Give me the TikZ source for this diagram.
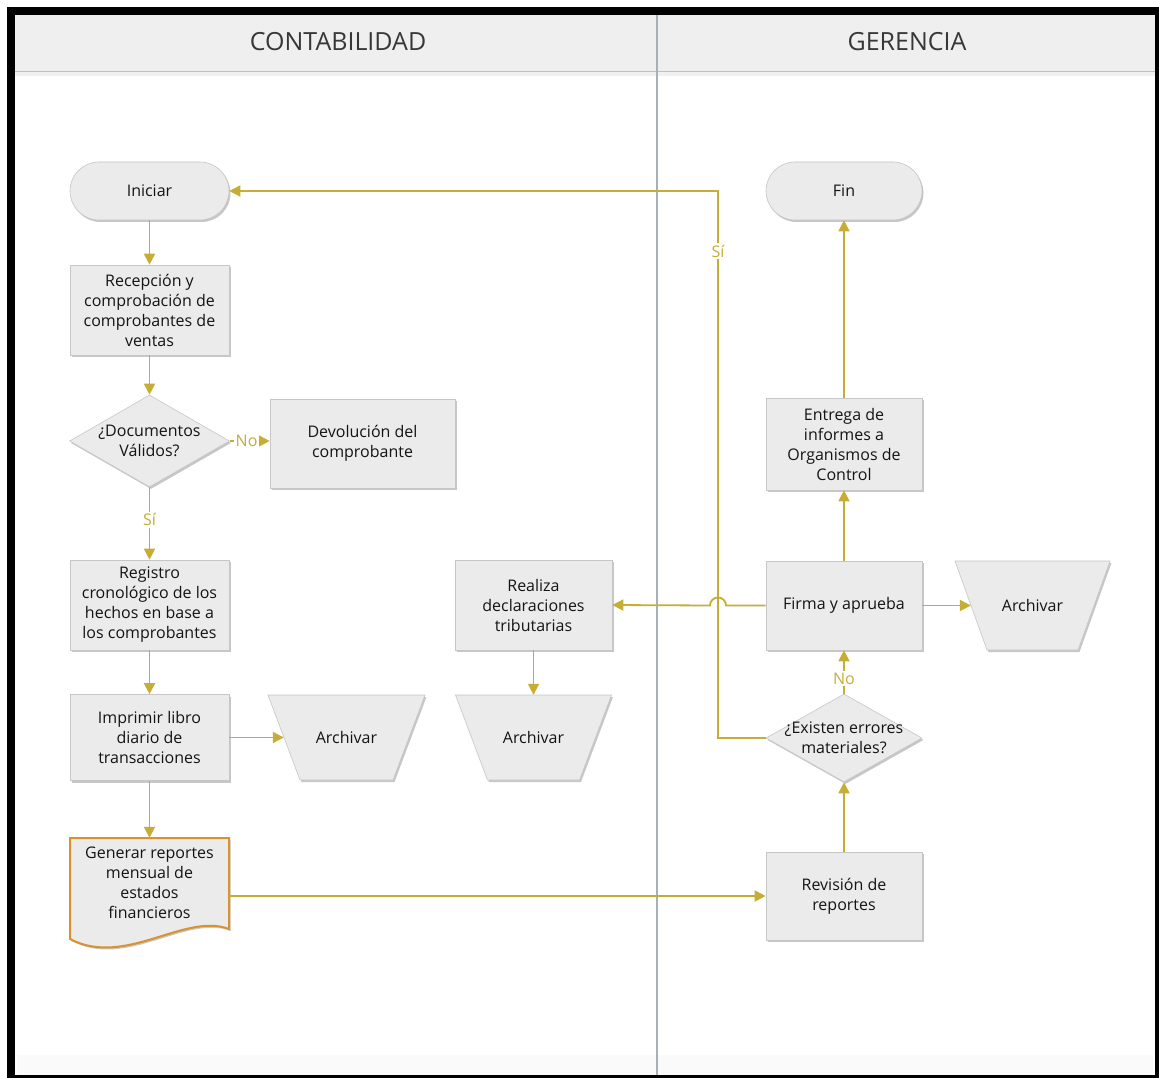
\documentclass[tikz,border=0pt]{standalone}
\usepackage{fontspec}
\setmainfont{Open Sans}
\usetikzlibrary{arrows.meta,shapes.geometric,shadows,calc}

\definecolor{flow}{HTML}{C6AD36}
\definecolor{boxfill}{HTML}{EBEBEB}
\definecolor{boxline}{HTML}{C6C6C6}
\definecolor{headfill}{HTML}{EFEFEF}
\definecolor{lanerule}{HTML}{A7B0B5}
\definecolor{docline}{HTML}{D9922E}
\definecolor{ink}{HTML}{141414}

\newcommand{\bodyfont}{\fontsize{16}{20}\selectfont}

\tikzset{
  softshadow/.style={drop shadow={shadow xshift=1.5pt, shadow yshift=-2pt, opacity=0.22, fill=black}},
  procbox/.style={draw=boxline, fill=boxfill, line width=0.6pt, softshadow,
    minimum width=159pt, minimum height=90pt, inner sep=2pt, align=center,
    font=\bodyfont, text=ink},
  termbox/.style={procbox, rounded corners=29pt, minimum height=58pt},
  decbox/.style={diamond, draw=boxline, fill=boxfill, line width=0.6pt, softshadow,
    minimum width=160pt, minimum height=92pt, inner sep=0pt},
  dectext/.style={align=center, font=\bodyfont, text=ink},
  trapshape/.style={draw=boxline, fill=boxfill, line width=0.6pt, softshadow},
  flowline/.style={draw=flow, line width=1.8pt},
  arr/.style={flowline, -{Triangle[length=11pt,width=11pt]}},
  flowlabel/.style={fill=white, inner sep=2pt, font=\bodyfont, text=flow},
  lanetitle/.style={font=\fontsize{25}{30}\selectfont, text=ink!85}
}

% inverted trapezoid (file/archive symbol): name, x, y, width, height
\newcommand{\archnode}[5]{%
  \path[trapshape] ($(#2,#3)+(-#4/2,-#5/2)$) -- ($(#2,#3)+(#4/2,-#5/2)$)
    -- ($(#2,#3)+(#4/2-32,#5/2)$) -- ($(#2,#3)+(-#4/2+32,#5/2)$) -- cycle;
  \node[dectext, minimum width=#4 pt, minimum height=#5 pt, inner sep=0pt] (#1) at (#2,#3) {Archivar};
}

\begin{document}
\begin{tikzpicture}[x=1pt,y=-1pt]
\useasboundingbox (0,0) rectangle (1159,1078);

% frame and swimlane headers
\fill[white] (0,0) rectangle (1159,1078);
\fill[black] (7,7) rectangle (1159,1078);
\fill[white] (15,15) rectangle (1155,1075);
\fill[black!2] (17,1055) rectangle (1153,1075);
\fill[headfill] (15,15) rectangle (1155,72);
\fill[black!6] (15,72) rectangle (1155,76);
\draw[black!25, line width=1pt] (15,72) -- (1155,72);
\draw[lanerule, line width=1.6pt] (657,15) -- (657,1075);
\node[lanetitle] (hcont) at (338,42) {CONTABILIDAD};
\node[lanetitle] (hger) at (907,42) {GERENCIA};

% CONTABILIDAD lane
\node[termbox] (ini) at (149.5,191) {Iniciar};
\node[procbox] (rec) at (149.5,310) {Recepción y\\comprobación de\\comprobantes de\\ventas};
\node[decbox] (d1) at (149.5,441) {};
\node[dectext] at (d1) {¿Documentos\\Válidos?};
\node[procbox, minimum width=185pt, minimum height=89pt] (dev) at (362.5,443.5) {Devolución del\\comprobante};
\node[procbox] (reg) at (149.5,605) {Registro\\cronológico de los\\hechos en base a\\los comprobantes};
\node[procbox, minimum height=86pt] (imp) at (149.5,737.5) {Imprimir libro\\diario de\\transacciones};
\archnode{arc1}{346.5}{737.5}{157}{85}
\node[procbox, minimum width=157pt] (rea) at (533.5,605) {Realiza\\declaraciones\\tributarias};
\archnode{arc2}{533.5}{737.5}{156}{85}

% document shape with wavy bottom
\path[fill=boxfill, draw=docline, line width=2pt, softshadow]
  (70,838) -- (229,838) -- (229,929)
  .. controls (185,912) and (125,968) .. (70,939) -- cycle;
\node[dectext, minimum width=159pt, minimum height=90pt] (gen) at (149.5,883)
  {Generar reportes\\mensual de\\estados\\financieros};

% GERENCIA lane
\node[termbox, minimum width=156pt] (fin) at (844,191) {Fin};
\node[procbox, minimum width=156pt, minimum height=92pt] (ent) at (844,444) {Entrega de\\informes a\\Organismos de\\Control};
\node[procbox, minimum width=156pt, minimum height=89pt] (fir) at (844,605.5) {Firma y aprueba};
\archnode{arc3}{1032.5}{605.5}{155}{89}
\node[decbox, minimum width=156pt, minimum height=88pt] (d2) at (844,738) {};
\node[dectext] at (d2) {¿Existen errores\\materiales?};
\node[procbox, minimum width=156pt, minimum height=88pt] (rev) at (844,896) {Revisión de\\reportes};

\coordinate (loop) at (718,191);

% connectors
\draw[arr] (ini) -- (rec);
\draw[arr] (rec) -- (d1);
\draw[arr] (d1.east) -- node[flowlabel, pos=0.42] {No} (dev.west |- d1.east);
\draw[arr] (d1.south) -- node[flowlabel, pos=0.45] {Sí} (reg.north);
\draw[arr] (reg) -- (imp);
\draw[arr] (imp.east) -- ($(arc1.west)+(16,0)$);
\draw[arr] (imp.south) -- (gen.north);
\draw[arr] (gen.east |- rev.west) -- (rev.west);
\draw[arr] (rev) -- (d2);
\draw[arr] (d2.north) -- node[flowlabel, pos=0.35] {No} (fir.south);
\draw[arr] (d2.west) -- (d2.west -| loop) -- node[flowlabel, pos=0.89] {Sí} (loop) -- (ini.east);
\draw[arr] (fir.north) -- (ent.south);
\draw[arr] (ent.north) -- (fin.south);
\draw[arr] (fir.east) -- ($(arc3.west)+(16,0)$);
\draw[arr] (fir.west) -- ($(fir.west -| loop)+(8,0)$)
  arc[start angle=0, end angle=180, radius=8pt] -- (rea.east);
\draw[arr] (rea.south) -- (rea.south |- arc2.north);
\end{tikzpicture}
\end{document}
